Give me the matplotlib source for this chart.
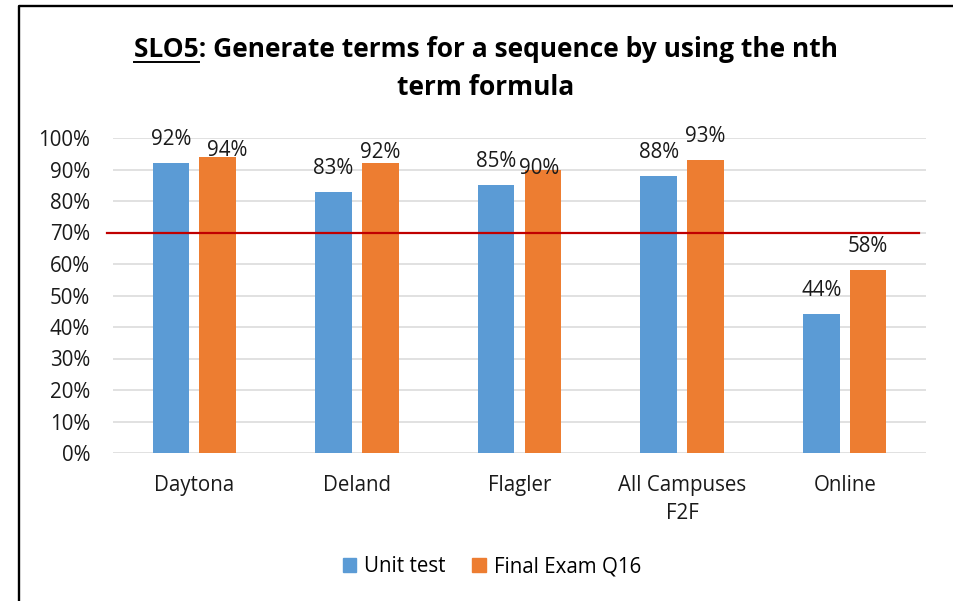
import matplotlib
matplotlib.use("Agg")
import numpy as np
import matplotlib.pyplot as plt
from matplotlib.lines import Line2D
from matplotlib.patches import Patch

# ------------------------------
# Data
# ------------------------------
categories = ["Daytona", "Deland", "Flagler", "All Campuses\nF2F", "Online"]
unit_test = [92, 83, 85, 88, 44]
final_exam = [94, 92, 90, 93, 58]
series_names = ["Unit test", "Final Exam Q16"]
target = 70
y_ticks = list(range(0, 101, 10))

# label nudges in pixels (dx, dy) where the labels were moved by hand
unit_nudge = [(0, 0), (0, 0), (0, 0), (0, 0), (0, 0)]
final_nudge = [(10, -17), (0, -13), (-4, -22), (0, 0), (0, 0)]

BLUE = "#5B9BD5"
ORANGE = "#ED7D31"
GRID = "#D9D9D9"
FONT = "Open Sans"
W, H = 954, 601
FS = 14.8

plt.rcParams["font.family"] = [FONT, "DejaVu Sans"]

fig = plt.figure(figsize=(W / 100, H / 100), dpi=100)
ax = fig.add_axes([113 / W, 1 - 453 / H, 813 / W, 315 / H])

# ------------------------------
# Bars
# ------------------------------
x = np.arange(len(categories))
bw = 0.225
off = bw / 2 + 0.031
ax.bar(x - off, unit_test, bw, color=BLUE, zorder=2)
ax.bar(x + off, final_exam, bw, color=ORANGE, zorder=2)

for xs, vals, nudges in [(x - off, unit_test, unit_nudge), (x + off, final_exam, final_nudge)]:
    for xi, v, (dx, dy) in zip(xs, vals, nudges):
        ax.annotate(f"{v}%", xy=(xi, v), xytext=(dx, 18 + dy), textcoords="offset pixels",
                    ha="center", va="baseline", fontsize=FS, color="#1a1a1a", zorder=5)

# target line
ax.axhline(target, xmin=-0.007, xmax=0.991, color="#C00000", lw=1.6, zorder=4, clip_on=False)

# ------------------------------
# Axes styling
# ------------------------------
ax.set_xlim(-0.5, len(categories) - 0.5)
ax.set_ylim(0, 100)
ax.set_yticks(y_ticks)
ax.set_yticklabels([f"{v}%" for v in y_ticks])
ax.set_xticks(x)
ax.set_xticklabels(categories)
for lbl in ax.get_xticklabels():
    lbl.set_linespacing(1.45)
ax.tick_params(axis="both", length=0, labelsize=FS, labelcolor="#1a1a1a")
ax.tick_params(axis="x", pad=15.5)
ax.tick_params(axis="y", pad=16.5)
for s in ax.spines.values():
    s.set_visible(False)
ax.yaxis.grid(True, color=GRID, lw=1.1, zorder=0)
ax.set_axisbelow(True)

# ------------------------------
# Title with underlined "SLO5"
# ------------------------------
tx = 486 / W
TS = 19
t1 = fig.text(tx, 1 - 57 / H, "SLO5: Generate terms for a sequence by using the nth",
              ha="center", va="baseline", fontsize=TS, fontweight="bold")
fig.text(tx, 1 - 95 / H, "term formula", ha="center", va="baseline",
         fontsize=TS, fontweight="bold")

fig.canvas.draw()
r = fig.canvas.get_renderer()
bb = t1.get_window_extent(r)
tmp = fig.text(bb.x0 / W, 1 - 57 / H, "SLO5", ha="left", va="baseline",
               fontsize=TS, fontweight="bold")
sb = tmp.get_window_extent(r)
tmp.remove()
uy = 1 - 62 / H
fig.add_artist(Line2D([sb.x0 / W, sb.x1 / W], [uy, uy], color="black", lw=1.4))

# ------------------------------
# Legend
# ------------------------------
handles = [Patch(color=BLUE), Patch(color=ORANGE)]
fig.legend(handles, series_names, loc="center", bbox_to_anchor=(492 / W, 1 - 567 / H),
           ncol=2, frameon=False, fontsize=FS, handlelength=0.65, handleheight=0.65,
           handletextpad=0.4, columnspacing=1.3)

# chart frame (cut off at right and bottom)
fx, fy = 19.5 / W, 1 - 6 / H
fig.add_artist(Line2D([fx, fx, 1], [0, fy, fy], color="black", lw=1.7))

fig.savefig("out.png", dpi=100)
